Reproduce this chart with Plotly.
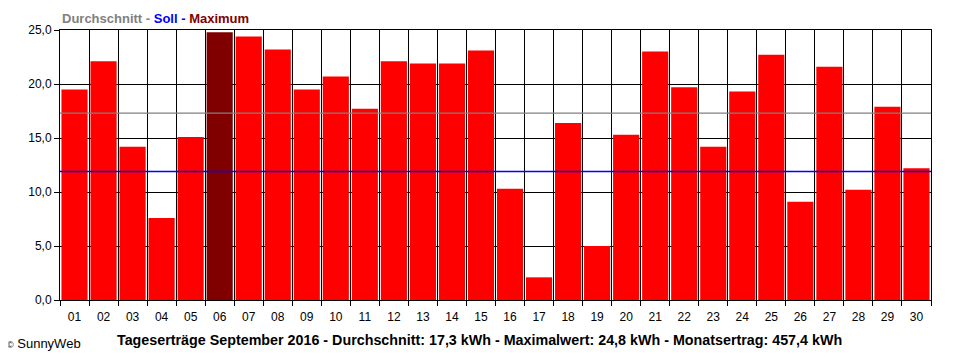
import plotly.graph_objects as go

days = ["01", "02", "03", "04", "05", "06", "07", "08", "09", "10",
        "11", "12", "13", "14", "15", "16", "17", "18", "19", "20",
        "21", "22", "23", "24", "25", "26", "27", "28", "29", "30"]
yields_kwh = [19.5, 22.1, 14.2, 7.6, 15.1, 24.8, 24.4, 23.2, 19.5, 20.7,
              17.7, 22.1, 21.9, 21.9, 23.1, 10.3, 2.1, 16.4, 5.0, 15.3,
              23.0, 19.7, 14.2, 19.3, 22.7, 9.1, 21.6, 10.2, 17.9, 12.2]
average_kwh = 17.3
target_kwh = 11.9
y_ticks = [0, 5, 10, 15, 20, 25]

RED = "#FF0000"
MAXRED = "#800000"
max_val = max(yields_kwh)
colors = [MAXRED if v == max_val else RED for v in yields_kwh]

FONT = "Liberation Sans, Arial, sans-serif"

fig = go.Figure()
fig.add_trace(go.Bar(
    x=days, y=yields_kwh, marker=dict(color=colors, line=dict(width=0)),
    width=0.9, hoverinfo="x+y",
))

# average (gray) and target (blue) lines drawn above the bars
for val, col in [(average_kwh, "#808080"), (target_kwh, "#0000FF")]:
    fig.add_shape(type="line", xref="paper", yref="y", x0=0, x1=1,
                  y0=val, y1=val, layer="above",
                  line=dict(color=col, width=1.3))

# the page body has an 8px margin, so the figure is sized/offset to compensate
fig.update_layout(
    width=952, height=352,
    margin=dict(l=52, r=29, t=22, b=60, autoexpand=False),
    paper_bgcolor="white", plot_bgcolor="white",
    showlegend=False,
    separators=",.",
    font=dict(family=FONT, size=12, color="black"),
    xaxis=dict(
        type="category", tickson="boundaries", ticks="outside", ticklen=5,
        tickcolor="black", showgrid=True, gridcolor="black", gridwidth=1,
        showline=True, linecolor="black", linewidth=1, mirror=True,
        tickfont=dict(family=FONT, size=12, color="black"),
        ticklabelstandoff=6,
        range=[-0.5, len(days) - 0.5], fixedrange=True, automargin=False,
    ),
    yaxis=dict(
        range=[0, 25], tickvals=y_ticks, tickformat=".1f",
        ticks="outside", ticklen=5, tickcolor="black",
        showgrid=True, gridcolor="black", gridwidth=1,
        showline=True, linecolor="black", linewidth=1, mirror=True,
        zeroline=False, tickfont=dict(family=FONT, size=12, color="black"),
        fixedrange=True, automargin=False,
    ),
    bargap=0.1,
)

fig.add_annotation(
    xref="paper", yref="paper", x=0, y=1, xanchor="left", yanchor="bottom",
    yshift=2, showarrow=False,
    text=("<b><span style='color:#808080'>Durchschnitt - </span>"
          "<span style='color:#0000FF'>Soll - </span>"
          "<span style='color:#800000'>Maximum</span></b>"),
    font=dict(family=FONT, size=13),
)
fig.add_annotation(
    xref="paper", yref="paper", x=0.482, y=0, xanchor="center", yanchor="middle",
    yshift=-40, showarrow=False,
    text=("<b>Tageserträge September 2016 - Durchschnitt: 17,3 kWh - "
          "Maximalwert: 24,8 kWh - Monatsertrag: 457,4 kWh</b>"),
    font=dict(family=FONT, size=14.3, color="black"),
)
fig.add_annotation(
    xref="paper", yref="paper", x=-52 / 871, y=0, xanchor="left", yanchor="middle",
    xshift=-3, yshift=-43, showarrow=False,
    text="<span style='font-size:9px'>©</span> SunnyWeb",
    font=dict(family=FONT, size=13, color="black"),
)

fig.write_html("out.html")
